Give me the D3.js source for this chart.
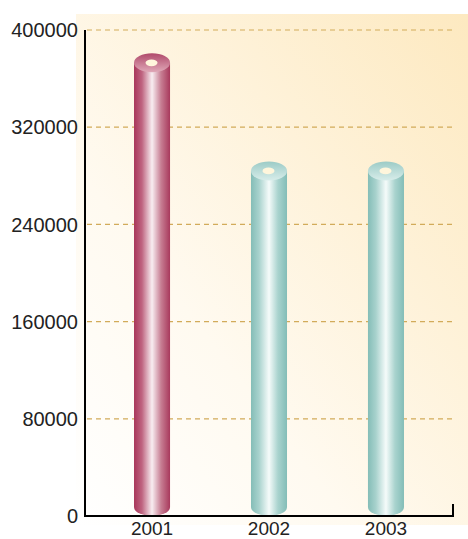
<!DOCTYPE html>
<html>
<head>
<meta charset="utf-8">
<script src="https://cdn.jsdelivr.net/npm/d3@7"></script>
<style>
  html, body { margin: 0; padding: 0; background: #fff; }
  svg { display: block; }
  text { font-family: "Liberation Sans", Arial, Helvetica, sans-serif; }
</style>
</head>
<body>
<svg id="chart" width="468" height="539"></svg>
<script>
const years = ["2001", "2002", "2003"];
const values = [373000, 284000, 284000];
const yTicks = [0, 80000, 160000, 240000, 320000, 400000];
const barStyles = ["crimson", "teal", "teal"];

const svg = d3.select("#chart");
const W = 468, H = 539;
const x0 = 85, x1 = 453, yTop = 30, yBot = 516;

const x = d3.scaleBand().domain(years).range([x0, x1]).paddingInner(0.692).paddingOuter(0.419);
const y = d3.scaleLinear().domain([0, 400000]).range([yBot, yTop]);

const defs = svg.append("defs");

const bg = defs.append("linearGradient").attr("id", "bg")
  .attr("x1", "0%").attr("y1", "100%").attr("x2", "100%").attr("y2", "0%");
bg.append("stop").attr("offset", "0%").attr("stop-color", "#ffffff");
bg.append("stop").attr("offset", "35%").attr("stop-color", "#fffaf0");
bg.append("stop").attr("offset", "100%").attr("stop-color", "#fde9c0");

const palettes = {
  crimson: { body: [["0%", "#a8365a"], ["22%", "#bf6480"], ["50%", "#f8eef1"], ["75%", "#c77e93"], ["100%", "#a8395c"]],
             top: [["0%", "#b04a6b"], ["100%", "#e0a9b8"]] },
  teal: { body: [["0%", "#84bdb7"], ["22%", "#a8d2cd"], ["50%", "#f5fbfa"], ["75%", "#a9d3ce"], ["100%", "#83bdb7"]],
          top: [["0%", "#9ccbc6"], ["100%", "#d8edea"]] }
};
Object.entries(palettes).forEach(([k, p]) => {
  const g = defs.append("linearGradient").attr("id", "body-" + k)
    .attr("x1", "0%").attr("y1", "0%").attr("x2", "100%").attr("y2", "0%");
  p.body.forEach(s => g.append("stop").attr("offset", s[0]).attr("stop-color", s[1]));
  const t = defs.append("linearGradient").attr("id", "top-" + k)
    .attr("x1", "0%").attr("y1", "0%").attr("x2", "0%").attr("y2", "100%");
  p.top.forEach(s => t.append("stop").attr("offset", s[0]).attr("stop-color", s[1]));
});

svg.append("rect").attr("x", 76).attr("y", 14).attr("width", W - 76).attr("height", 525 - 14)
  .attr("fill", "url(#bg)");

svg.append("g").selectAll("line").data(yTicks.filter(d => d > 0)).join("line")
  .attr("x1", x0 + 2).attr("x2", x1 - 1)
  .attr("y1", d => y(d)).attr("y2", d => y(d))
  .attr("stroke", "#d2ab5a").attr("stroke-width", 1.2)
  .attr("stroke-dasharray", "5,4");

const rx = x.bandwidth() / 2, ry = 9;
const bars = svg.append("g").selectAll("g").data(years).join("g");
bars.each(function (d, i) {
  const g = d3.select(this);
  const cx = x(d) + rx;
  const yt = y(values[i]);
  const yb = y(0) - ry;
  const k = barStyles[i];
  g.append("path")
    .attr("d", `M${cx - rx},${yt} L${cx - rx},${yb} A${rx},${ry} 0 0 0 ${cx + rx},${yb} L${cx + rx},${yt} Z`)
    .attr("fill", `url(#body-${k})`);
  g.append("ellipse").attr("cx", cx).attr("cy", yt).attr("rx", rx).attr("ry", ry + 0.5)
    .attr("fill", `url(#top-${k})`);
  g.append("ellipse").attr("cx", cx - 0.5).attr("cy", yt).attr("rx", 6).attr("ry", 3.4)
    .attr("fill", "#fff6dc");
});

svg.append("line").attr("x1", x0).attr("x2", x0).attr("y1", yTop).attr("y2", yBot + 1)
  .attr("stroke", "#000").attr("stroke-width", 2);
svg.append("path").attr("d", `M${x0},${yBot} H${x1} V${yBot - 12}`)
  .attr("fill", "none").attr("stroke", "#000").attr("stroke-width", 2);

svg.append("g").selectAll("text").data(yTicks).join("text")
  .attr("x", 78).attr("y", d => y(d)).attr("dy", "0.36em")
  .attr("text-anchor", "end").attr("font-size", 20).attr("fill", "#222")
  .text(d => d);

svg.append("g").selectAll("text").data(years).join("text")
  .attr("x", d => x(d) + rx).attr("y", 535)
  .attr("text-anchor", "middle").attr("font-size", 19).attr("fill", "#222")
  .text(d => d);
</script>
</body>
</html>
